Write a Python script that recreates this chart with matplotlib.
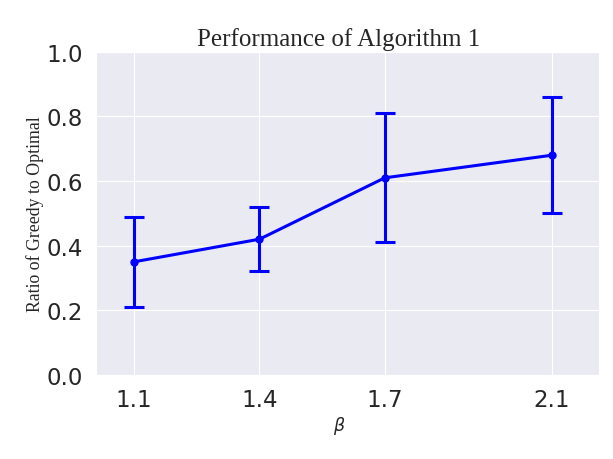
import numpy as np
import matplotlib
matplotlib.use("Agg")
import matplotlib.pyplot as plt
import seaborn as sns

# data
betas  = [1.1, 1.4, 1.7, 2.1]
ratios = [0.35, 0.42, 0.61, 0.68]
errors = [0.14, 0.10, 0.20, 0.18]
yticks = [0.0, 0.2, 0.4, 0.6, 0.8, 1.0]

sns.set_style("darkgrid")
plt.rcParams["font.family"] = ["DejaVu Sans"]

fig = plt.figure(figsize=(6.13, 4.6), dpi=100)
ax = fig.add_axes([0.157, 0.183, 0.820, 0.702])

ax.errorbar(betas, ratios, yerr=errors, color="blue", linewidth=2.2,
            elinewidth=2.2, capsize=7, capthick=2.2,
            marker="o", markersize=5)

ax.set_xticks(betas)
ax.set_xticklabels([str(b) for b in betas])
ax.set_yticks(yticks)
ax.set_xlim(1.009, 2.213)
ax.set_ylim(0.0, 1.0)
ax.tick_params(axis="both", labelsize=16.5, colors="#262626", pad=6)

ax.set_title("Performance of Algorithm 1", family="Liberation Serif",
             fontsize=18, color="#262626", pad=5, x=0.483)
ax.set_ylabel("Ratio of Greedy to Optimal", family="Liberation Serif",
              fontsize=12.8, color="#262626", labelpad=2)
ax.set_xlabel(r"$\beta$", fontsize=12.5, color="#262626", labelpad=2,
              x=0.483)

fig.savefig("out.png", dpi=100)
